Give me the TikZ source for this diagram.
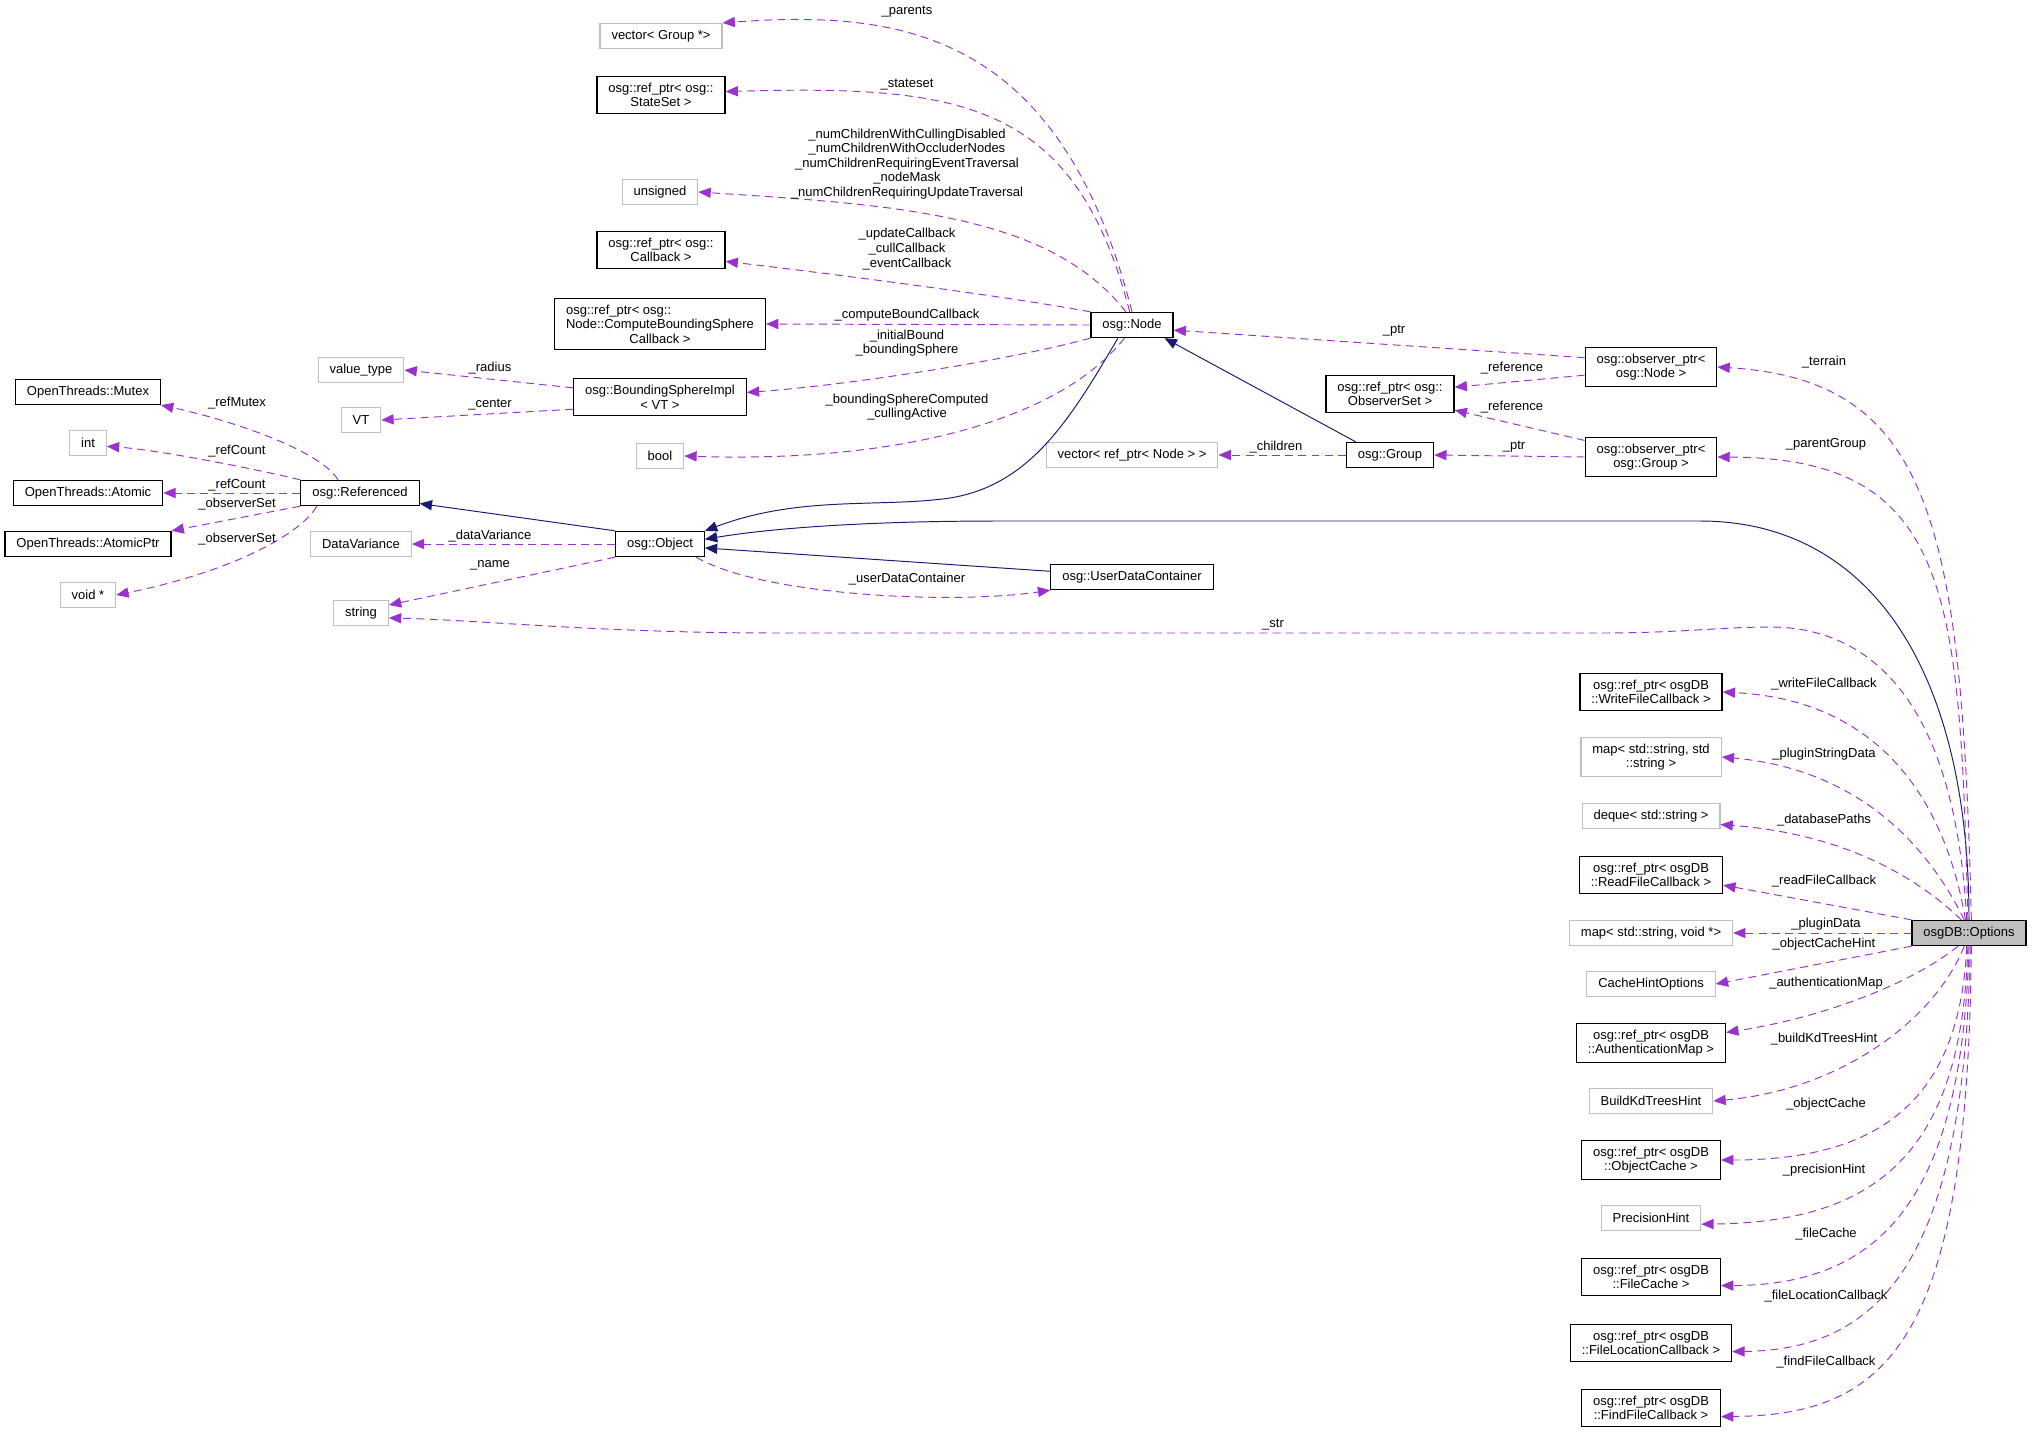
\documentclass[tikz,border=0pt]{standalone}
\usepackage{xcolor}
\usepackage{fontspec}
\setmainfont{Liberation Sans}
\usepackage{tikz}
\usetikzlibrary{arrows.meta}
\definecolor{doxpurple}{HTML}{9A32CD}
\definecolor{doxnavy}{HTML}{191970}
\definecolor{doxgrey}{HTML}{BFBFBF}

\begin{document}
\begin{tikzpicture}[x=0.02cm, y=-0.02cm, font=\fontsize{7.4}{8.3}\selectfont,
    cls/.style={rectangle, draw=black, fill=white, line width=0.7pt, align=center, inner xsep=6.5pt, inner ysep=3.7pt, minimum height=0.5cm},
    ext/.style={cls, draw=doxgrey},
    focus/.style={cls, fill=doxgrey},
    member/.style={draw=doxpurple, line width=0.55pt, dash pattern=on 4.5pt off 3pt, -{Triangle[length=7pt,width=5.8pt]}},
    inherit/.style={draw=doxnavy, line width=0.55pt, -{Triangle[length=7pt,width=5.8pt]}},
    lbl/.style={inner sep=0pt, align=center}]

    \useasboundingbox (0,0) rectangle (2032,1434);

    \node [ext] (parentsvec) at (661,36) {vector< Group *>};
    \node [cls] (stateset) at (661,95) {osg::ref\_ptr< osg::\\StateSet >};
    \node [ext] (unsignedt) at (660,192) {unsigned};
    \node [cls] (nodecb) at (661,250) {osg::ref\_ptr< osg::\\Callback >};
    \node [cls] (boundcb) at (660,324) {\rlap{osg::ref\_ptr< osg::}\phantom{Node::ComputeBoundingSphere}\\Node::ComputeBoundingSphere\\Callback >};
    \node [cls] (bsphere) at (660,397) {osg::BoundingSphereImpl\\< VT >};
    \node [ext] (valuetype) at (361,370) {value\_type};
    \node [ext] (vt) at (361,420) {VT};
    \node [cls] (mutex) at (88,392) {OpenThreads::Mutex};
    \node [ext] (intt) at (88,443) {int};
    \node [ext] (boolt) at (660,456) {bool};
    \node [cls] (atomic) at (88,493) {OpenThreads::Atomic};
    \node [cls] (referenced) at (360,493) {osg::Referenced};
    \node [cls] (atomicptr) at (88,544) {OpenThreads::AtomicPtr};
    \node [ext] (datavar) at (361,544) {DataVariance};
    \node [cls] (object) at (660,544) {osg::Object};
    \node [ext] (voidp) at (88,595) {void *};
    \node [ext] (stringt) at (361,613) {string};
    \node [cls] (osgnode) at (1132,325) {osg::Node};
    \node [cls] (obsset) at (1390,394) {osg::ref\_ptr< osg::\\ObserverSet >};
    \node [ext] (childvec) at (1132,455) {vector< ref\_ptr< Node > >};
    \node [cls] (group) at (1390,455) {osg::Group};
    \node [cls] (udc) at (1132,577) {osg::UserDataContainer};
    \node [cls] (obsnode) at (1651,367) {osg::observer\_ptr<\\osg::Node >};
    \node [cls] (obsgroup) at (1651,457) {osg::observer\_ptr<\\osg::Group >};
    \node [cls] (writecb) at (1651,692) {osg::ref\_ptr< osgDB\\::WriteFileCallback >};
    \node [ext] (strmap) at (1651,757) {map< std::string, std\\::string >};
    \node [ext] (dbpaths) at (1651,816) {deque< std::string >};
    \node [cls] (readcb) at (1651,875) {osg::ref\_ptr< osgDB\\::ReadFileCallback >};
    \node [ext] (voidmap) at (1651,933) {map< std::string, void *>};
    \node [focus] (options) at (1969,933) {osgDB::Options};
    \node [ext] (cachehint) at (1651,984) {CacheHintOptions};
    \node [cls] (authmap) at (1651,1043) {osg::ref\_ptr< osgDB\\::AuthenticationMap >};
    \node [ext] (kdhint) at (1651,1101) {BuildKdTreesHint};
    \node [cls] (objcache) at (1651,1160) {osg::ref\_ptr< osgDB\\::ObjectCache >};
    \node [ext] (prechint) at (1651,1218) {PrecisionHint};
    \node [cls] (filecache) at (1651,1277) {osg::ref\_ptr< osgDB\\::FileCache >};
    \node [cls] (fileloc) at (1651,1343) {osg::ref\_ptr< osgDB\\::FileLocationCallback >};
    \node [cls] (findfile) at (1651,1408) {osg::ref\_ptr< osgDB\\::FindFileCallback >};

    \draw [inherit] (osgnode.-137) .. controls (1070,420) and (1030,485) .. (950,498) .. controls (880,508) and (800,495) .. (object.north east);
    \draw [inherit] (group.159) -- (osgnode.-22);
    \draw [inherit] (options.north) .. controls (1969,670) and (1870,521) .. (1700,521) -- (1000,521) .. controls (850,521) and (760,530) .. (object.6);
    \draw [inherit] (udc.176) -- (object.-5);
    \draw [inherit] (object.north west) -- (referenced.-10);

    \draw [member] (osgnode.north) .. controls (1060,30) and (900,10) .. (parentsvec.north east) node [lbl] at (907,12) {\_parents};
    \draw [member] (osgnode.100) .. controls (1075,100) and (960,85) .. (stateset.3) node [lbl] at (907,85) {\_stateset};
    \draw [member] (osgnode.115) .. controls (1050,215) and (900,205) .. (unsignedt.east) node [lbl] at (907,164) {\_numChildrenWithCullingDisabled\\\_numChildrenWithOccluderNodes\\\_numChildrenRequiringEventTraversal\\\_nodeMask\\\_numChildrenRequiringUpdateTraversal};
    \draw [member] (osgnode.north west) .. controls (1000,295) and (800,270) .. (nodecb.-10) node [lbl] at (907,249) {\_updateCallback\\\_cullCallback\\\_eventCallback};
    \draw [member] (osgnode.west) -- (boundcb.east) node [lbl] at (907,315) {\_computeBoundCallback};
    \draw [member] (osgnode.south west) .. controls (1010,360) and (850,385) .. (bsphere.3) node [lbl] at (907,343) {\_initialBound\\\_boundingSphere};
    \draw [member] (osgnode.-120) .. controls (1060,420) and (900,463) .. (boolt.east) node [lbl] at (907,407) {\_boundingSphereComputed\\\_cullingActive};

    \draw [member] (obsnode.172) -- (osgnode.-7) node [lbl] at (1394,331) {\_ptr};
    \draw [member] (obsnode.187) -- (obsset.6) node [lbl] at (1512,368) {\_reference};
    \draw [member] (obsgroup.166) -- (obsset.-14) node [lbl] at (1512,407) {\_reference};
    \draw [member] (obsgroup.west) -- (group.east) node [lbl] at (1514,447) {\_ptr};
    \draw [member] (group.west) -- (childvec.east) node [lbl] at (1276,447) {\_children};

    \draw [member] (referenced.149) .. controls (320,450) and (230,420) .. (mutex.south east) node [lbl] at (237,403) {\_refMutex};
    \draw [member] (referenced.north west) .. controls (260,470) and (160,450) .. (intt.-10) node [lbl] at (237,451) {\_refCount};
    \draw [member] (referenced.west) -- (atomic.east) node [lbl] at (237,485) {\_refCount};
    \draw [member] (referenced.south west) -- (atomicptr.north east) node [lbl] at (237,504) {\_observerSet};
    \draw [member] (referenced.-163) .. controls (300,535) and (230,572) .. (voidp.east) node [lbl] at (237,539) {\_observerSet};

    \draw [member] (bsphere.174) -- (valuetype.east) node [lbl] at (490,368) {\_radius};
    \draw [member] (bsphere.-172) -- (vt.east) node [lbl] at (490,405) {\_center};

    \draw [member] (object.west) -- (datavar.east) node [lbl] at (490,536) {\_dataVariance};
    \draw [member] (object.south west) -- (stringt.16) node [lbl] at (490,565) {\_name};
    \draw [member] (object.-20) .. controls (760,595) and (950,605) .. (udc.south west) node [lbl] at (907,579) {\_userDataContainer};

    \draw [member] (options.80) .. controls (1962,520) and (1930,380) .. (obsnode.east) node [lbl] at (1824,362) {\_terrain};
    \draw [member] (options.95) .. controls (1960,590) and (1950,458) .. (obsgroup.east) node [lbl] at (1826,444) {\_parentGroup};
    \draw [member] (options.100) .. controls (1955,700) and (1870,627) .. (1770,627) .. controls (1720,627) and (1680,633) .. (1600,633) -- (780,633) .. controls (600,633) and (480,620) .. (stringt.-10) node [lbl] at (1273,625) {\_str};
    \draw [member] (options.105) .. controls (1945,800) and (1880,700) .. (writecb.east) node [lbl] at (1824,684) {\_writeFileCallback};
    \draw [member] (options.110) .. controls (1935,860) and (1870,770) .. (strmap.east) node [lbl] at (1824,754) {\_pluginStringData};
    \draw [member] (options.120) .. controls (1930,890) and (1860,835) .. (dbpaths.-7) node [lbl] at (1824,820) {\_databasePaths};
    \draw [member] (options.north west) -- (readcb.-8) node [lbl] at (1824,881) {\_readFileCallback};
    \draw [member] (options.west) -- (voidmap.east) node [lbl] at (1826,924) {\_pluginData};
    \draw [member] (options.south west) -- (cachehint.east) node [lbl] at (1824,944) {\_objectCacheHint};
    \draw [member] (options.-130) .. controls (1910,985) and (1820,1018) .. (authmap.8) node [lbl] at (1826,983) {\_authenticationMap};
    \draw [member] (options.-110) .. controls (1935,1020) and (1840,1090) .. (kdhint.east) node [lbl] at (1824,1039) {\_buildKdTreesHint};
    \draw [member] (options.-100) .. controls (1960,1100) and (1880,1160) .. (objcache.east) node [lbl] at (1826,1104) {\_objectCache};
    \draw [member] (options.-95) .. controls (1962,1150) and (1880,1222) .. (prechint.-7) node [lbl] at (1824,1170) {\_precisionHint};
    \draw [member] (options.south) .. controls (1962,1200) and (1880,1285) .. (filecache.-7) node [lbl] at (1826,1234) {\_fileCache};
    \draw [member] (options.-85) .. controls (1965,1260) and (1880,1350) .. (fileloc.-6) node [lbl] at (1826,1296) {\_fileLocationCallback};
    \draw [member] (options.-80) .. controls (1968,1340) and (1890,1415) .. (findfile.-7) node [lbl] at (1826,1362) {\_findFileCallback};
\end{tikzpicture}
\end{document}
